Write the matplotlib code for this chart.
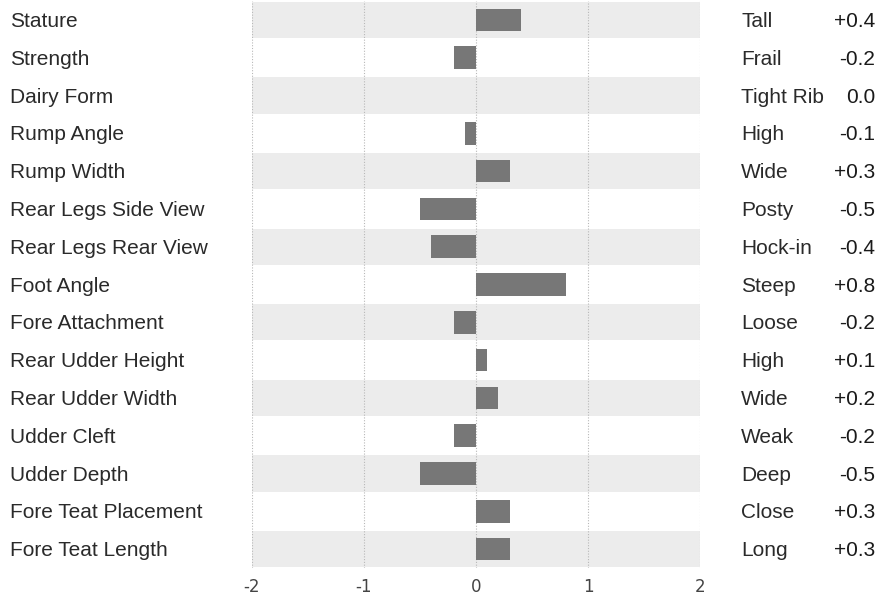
import matplotlib
matplotlib.use("Agg")
import matplotlib.pyplot as plt
from matplotlib.transforms import blended_transform_factory

traits = ["Stature", "Strength", "Dairy Form", "Rump Angle", "Rump Width",
          "Rear Legs Side View", "Rear Legs Rear View", "Foot Angle",
          "Fore Attachment", "Rear Udder Height", "Rear Udder Width",
          "Udder Cleft", "Udder Depth", "Fore Teat Placement", "Fore Teat Length"]
descriptors = ["Tall", "Frail", "Tight Rib", "High", "Wide", "Posty", "Hock-in",
               "Steep", "Loose", "High", "Wide", "Weak", "Deep", "Close", "Long"]
values = [0.4, -0.2, 0.0, -0.1, 0.3, -0.5, -0.4, 0.8, -0.2, 0.1, 0.2, -0.2,
          -0.5, 0.3, 0.3]
value_labels = ["+0.4", "-0.2", "0.0", "-0.1", "+0.3", "-0.5", "-0.4", "+0.8",
                "-0.2", "+0.1", "+0.2", "-0.2", "-0.5", "+0.3", "+0.3"]
xticks = [-2, -1, 0, 1, 2]

W, H = 890, 596
fig = plt.figure(figsize=(W / 100, H / 100), dpi=100)
ax = fig.add_axes([252 / W, 1 - 568 / H, (700 - 252) / W, 567 / H])

n = len(traits)
ypos = list(range(n))

for i in ypos:
    if i % 2 == 0:
        ax.axhspan(i - 0.48, i + 0.48, color="#ececec", lw=0, zorder=0)

for x in xticks:
    ax.axvline(x, color="#b8b8b8", lw=0.8, ls=(0, (1, 1.5)), zorder=1)

ax.barh(ypos, values, height=0.6, color="#777777", linewidth=0, zorder=2)

ax.set_xlim(-2, 2)
ax.set_ylim(n - 0.5, -0.5)
ax.set_yticks([])
ax.set_xticks(xticks)
ax.set_xticklabels([str(t) for t in xticks], fontfamily="DejaVu Sans",
                   fontsize=12, color="#444444")
ax.tick_params(axis="x", length=0, pad=7)
for s in ax.spines.values():
    s.set_visible(False)

tr = blended_transform_factory(fig.transFigure, ax.transData)
fam = "Liberation Sans"
fs = 15
for i in ypos:
    fig.text(10 / W, i + 0.04, traits[i], transform=tr, ha="left", va="center",
             fontfamily=fam, fontsize=fs, color="#2a2a2a")
    fig.text(741 / W, i + 0.04, descriptors[i], transform=tr, ha="left",
             va="center", fontfamily=fam, fontsize=fs, color="#2a2a2a")
    fig.text(875 / W, i + 0.04, value_labels[i], transform=tr, ha="right",
             va="center", fontfamily=fam, fontsize=fs, color="#1a1a1a")

fig.savefig("out.png", dpi=100)
